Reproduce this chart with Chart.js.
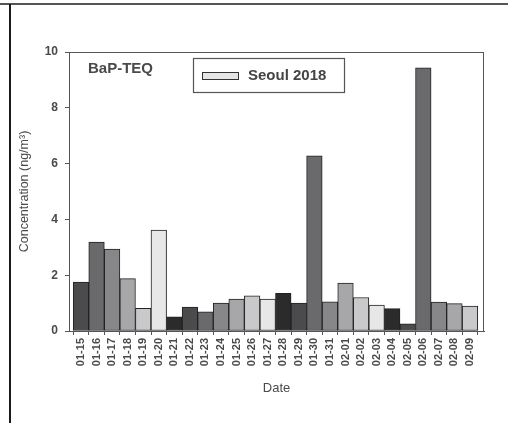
<!doctype html>
<html>
<head>
<meta charset="utf-8">
<script src="https://cdn.jsdelivr.net/npm/chart.js@4.4.1/dist/chart.umd.min.js"></script>
<style>
  html, body { margin: 0; padding: 0; background: #fff; }
  #wrap { position: relative; width: 508px; height: 423px; }
</style>
</head>
<body>
<div id="wrap"><canvas id="myChart"></canvas></div>
<script>
// dates on the x axis
var dates = ['01-15','01-16','01-17','01-18','01-19','01-20','01-21','01-22','01-23','01-24',
  '01-25','01-26','01-27','01-28','01-29','01-30','01-31','02-01','02-02','02-03',
  '02-04','02-05','02-06','02-07','02-08','02-09'];
// BaP-TEQ concentration, ng/m3
var bapTeq = [1.75, 3.19, 2.94, 1.88, 0.81, 3.62, 0.51, 0.86, 0.69, 1.00,
  1.14, 1.26, 1.14, 1.35, 1.00, 6.28, 1.05, 1.72, 1.20, 0.93,
  0.80, 0.26, 9.43, 1.04, 0.98, 0.89];
var yTicks = [0, 2, 4, 6, 8, 10];
var seriesName = 'Seoul 2018';
var panelLabel = 'BaP-TEQ';

// gray shades repeat every 7 bars
var shades = ['#4b4b4d','#6a6a6d','#87878a','#a7a7a9','#c9c9cb','#e7e7e7','#2b2b2c'];
var barColors = dates.map(function (d, i) { return shades[i % shades.length]; });

var FONT = "'Liberation Sans', Arial, sans-serif";
var TXT = '#4a4a4a';

var decor = {
  id: 'decor',
  beforeDraw: function (chart) {
    var c = chart.ctx;
    c.save();
    // outer page lines
    c.fillStyle = '#555';
    c.fillRect(0, 3, chart.width, 2);
    c.fillStyle = '#1a1a1a';
    c.fillRect(9, 4, 2, chart.height);
    c.restore();
  },
  afterDraw: function (chart) {
    var c = chart.ctx, a = chart.chartArea;
    c.save();
    // frame around plot
    c.strokeStyle = '#555';
    c.lineWidth = 1;
    c.strokeRect(a.left + 0.5, a.top + 0.5, a.right - a.left - 1, a.bottom - a.top);

    // panel label
    c.fillStyle = TXT;
    c.font = 'bold 15px ' + FONT;
    c.textBaseline = 'middle';
    c.fillText(panelLabel, 88, 69);

    // legend box
    c.strokeStyle = '#555';
    c.lineWidth = 1.2;
    c.strokeRect(193.5, 58.5, 151, 34);
    c.fillStyle = '#e6e6e6';
    c.fillRect(202, 72, 36, 7);
    c.strokeStyle = '#333';
    c.lineWidth = 1;
    c.strokeRect(202.5, 72.5, 36, 7);
    c.fillStyle = '#444';
    c.font = 'bold 15px ' + FONT;
    c.fillText(seriesName, 248, 76);
    c.restore();
  }
};

var ctx = document.getElementById('myChart');
var myChart = new Chart(ctx, {
  type: 'bar',
  data: {
    datasets: [{
      label: seriesName,
      data: bapTeq.map(function (v, i) { return { x: i, y: v }; }),
      backgroundColor: barColors,
      borderColor: '#222',
      borderWidth: 1,
      borderSkipped: false,
      barPercentage: 1,
      categoryPercentage: 1
    }]
  },
  options: {
    responsive: true,
    maintainAspectRatio: false,
    animation: false,
    layout: { padding: { left: 0, top: 52, right: 24, bottom: 0 } },
    plugins: { legend: { display: false }, tooltip: { enabled: false } },
    scales: {
      x: {
        type: 'linear',
        min: -0.77,
        max: 25.9,
        bounds: 'data',
        offset: false,
        afterFit: function (s) { s.height = 92; },
        afterBuildTicks: function (s) {
          s.ticks = dates.map(function (d, i) { return { value: i }; });
        },
        ticks: {
          autoSkip: false,
          includeBounds: false,
          maxRotation: 90,
          minRotation: 90,
          padding: 3,
          color: TXT,
          font: { family: FONT, size: 11, weight: 'bold' },
          callback: function (v) { return dates[v] !== undefined ? dates[v] : ''; }
        },
        grid: { display: true, drawOnChartArea: false, drawTicks: true, tickLength: 4, color: '#555' },
        border: { display: true, color: '#555' },
        title: {
          display: true, text: 'Date', color: TXT,
          font: { family: FONT, size: 13 },
          padding: { top: 0, bottom: 27 }
        }
      },
      y: {
        min: 0,
        max: 10,
        afterFit: function (s) { s.width = 69; },
        afterBuildTicks: function (s) {
          s.ticks = yTicks.map(function (v) { return { value: v }; });
        },
        ticks: {
          padding: 7,
          color: TXT,
          font: { family: FONT, size: 12, weight: 'bold' }
        },
        grid: { display: true, drawOnChartArea: false, drawTicks: true, tickLength: 4, color: '#555' },
        border: { display: true, color: '#555' },
        title: {
          display: true, text: 'Concentration (ng/m³)', color: TXT,
          font: { family: FONT, size: 12.5 },
          padding: { top: 17, bottom: 0 }
        }
      }
    }
  },
  plugins: [decor]
});
</script>
</body>
</html>
